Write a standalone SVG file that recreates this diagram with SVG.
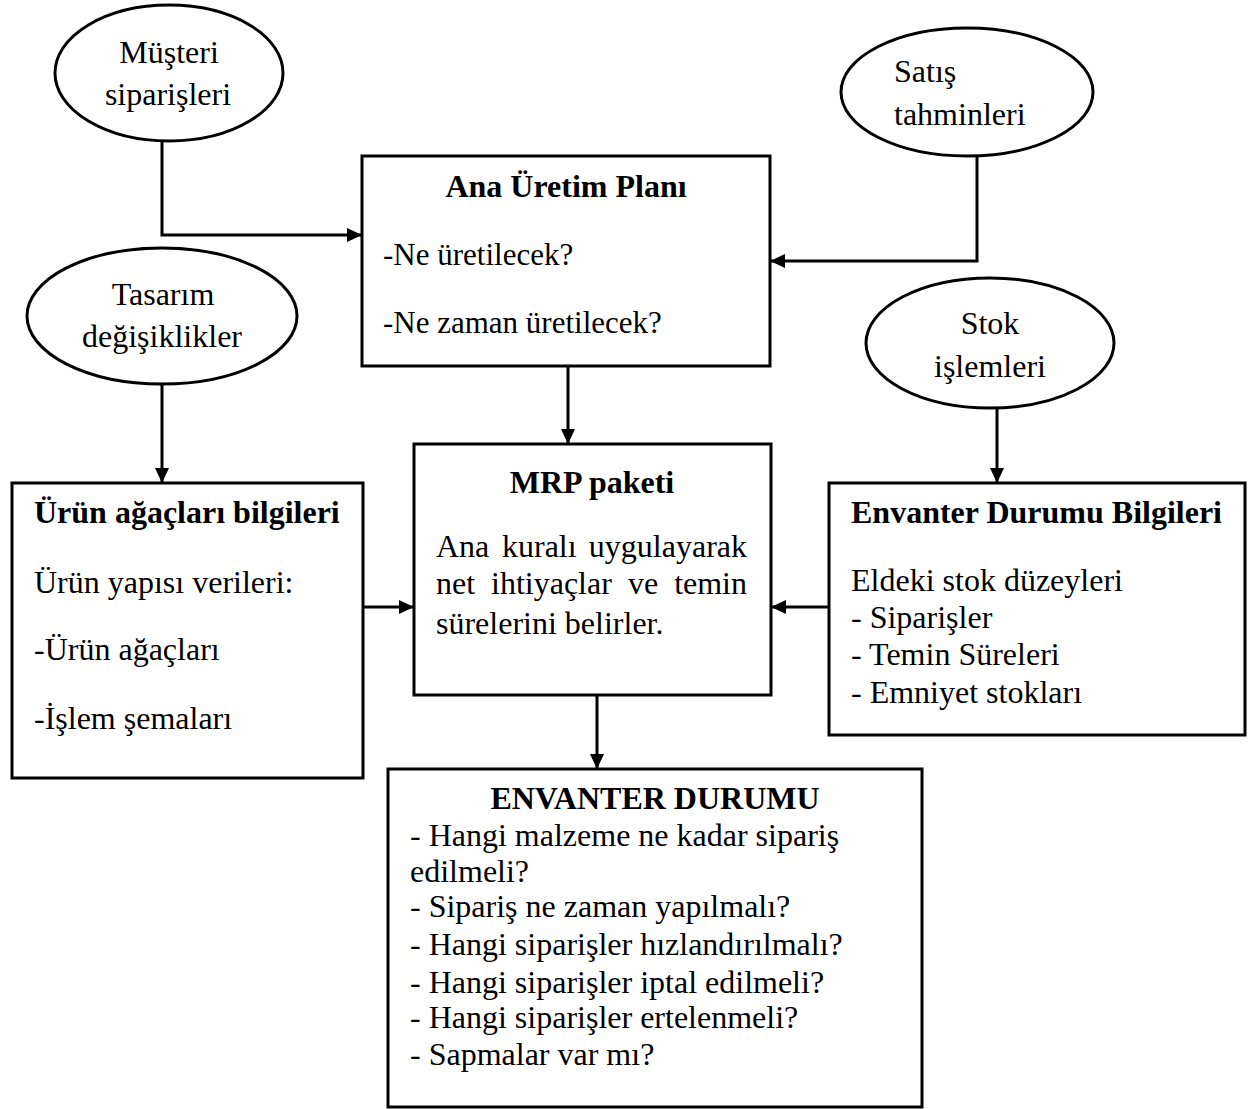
<svg xmlns="http://www.w3.org/2000/svg" width="1254" height="1109" viewBox="0 0 1254 1109">
  <style>
    .shape { fill: #ffffff; stroke: #000000; stroke-width: 3; }
    .wire { fill: none; stroke: #000000; stroke-width: 3; marker-end: url(#head); }
    text { font-family: "Liberation Serif", "Times New Roman", serif; font-size: 32px; fill: #000000; }
    .b { font-weight: bold; }
    .c { text-anchor: middle; }
    .s31 { font-size: 31px; }
  </style>
  <defs>
    <marker id="head" markerUnits="userSpaceOnUse" markerWidth="16" markerHeight="16" refX="15" refY="7" orient="auto">
      <path d="M0,0 L15,7 L0,14 Z" fill="#000000"/>
    </marker>
  </defs>

  <rect width="1254" height="1109" fill="#ffffff"/>

  <!-- connectors -->
  <g id="connectors">
    <path class="wire" d="M162,141 V235 H362"/>
    <path class="wire" d="M977,156 V261 H770"/>
    <path class="wire" d="M568,366 V444"/>
    <path class="wire" d="M162,385 V483"/>
    <path class="wire" d="M997,408 V483"/>
    <path class="wire" d="M363,607 H414"/>
    <path class="wire" d="M829,607 H771"/>
    <path class="wire" d="M597,695 V769"/>
  </g>

  <!-- input ellipses -->
  <g id="musteri-siparisleri">
    <ellipse class="shape" cx="169" cy="73" rx="114" ry="68"/>
    <text class="c" x="169" y="63">Müşteri</text>
    <text class="c" x="168" y="105">siparişleri</text>
  </g>

  <g id="tasarim-degisiklikler">
    <ellipse class="shape" cx="162" cy="316" rx="135" ry="68"/>
    <text class="c" x="163" y="305">Tasarım</text>
    <text class="c" x="162" y="347">değişiklikler</text>
  </g>

  <g id="satis-tahminleri">
    <ellipse class="shape" cx="967" cy="92" rx="126" ry="64"/>
    <text x="894" y="82">Satış</text>
    <text x="894" y="125">tahminleri</text>
  </g>

  <g id="stok-islemleri">
    <ellipse class="shape" cx="990" cy="343" rx="124" ry="65"/>
    <text class="c" x="990" y="334">Stok</text>
    <text class="c" x="990" y="377">işlemleri</text>
  </g>

  <!-- master production schedule -->
  <g id="ana-uretim-plani">
    <rect class="shape" x="362" y="156" width="408" height="210"/>
    <text class="b c" x="566" y="197">Ana Üretim Planı</text>
    <text class="s31" x="383" y="265">-Ne üretilecek?</text>
    <text class="s31" x="383" y="333">-Ne zaman üretilecek?</text>
  </g>

  <!-- bill of materials -->
  <g id="urun-agaclari-bilgileri">
    <rect class="shape" x="12" y="483" width="351" height="295"/>
    <text class="b" x="34" y="523">Ürün ağaçları bilgileri</text>
    <text x="34" y="593">Ürün yapısı verileri:</text>
    <text x="34" y="660">-Ürün ağaçları</text>
    <text x="34" y="729">-İşlem şemaları</text>
  </g>

  <!-- MRP package (justified paragraph, words placed one by one) -->
  <g id="mrp-paketi">
    <rect class="shape" x="414" y="444" width="357" height="251"/>
    <text class="b c" x="592" y="493">MRP paketi</text>
    <text y="557"><tspan x="436">Ana</tspan><tspan x="502">kuralı</tspan><tspan x="747" text-anchor="end">uygulayarak</tspan></text>
    <text y="594"><tspan x="436">net</tspan><tspan x="491">ihtiyaçlar</tspan><tspan x="628">ve</tspan><tspan x="747" text-anchor="end">temin</tspan></text>
    <text x="436" y="634">sürelerini belirler.</text>
  </g>

  <!-- inventory records -->
  <g id="envanter-durumu-bilgileri">
    <rect class="shape" x="829" y="483" width="416" height="252"/>
    <text class="b" x="851" y="523">Envanter Durumu Bilgileri</text>
    <text x="851" y="591">Eldeki stok düzeyleri</text>
    <text x="851" y="628">- Siparişler</text>
    <text x="851" y="665">- Temin Süreleri</text>
    <text x="851" y="703">- Emniyet stokları</text>
  </g>

  <!-- output -->
  <g id="envanter-durumu">
    <rect class="shape" x="388" y="769" width="534" height="338"/>
    <text class="b c" x="655" y="809">ENVANTER DURUMU</text>
    <text x="410" y="846">- Hangi malzeme ne kadar sipariş</text>
    <text x="410" y="882">edilmeli?</text>
    <text x="410" y="917">- Sipariş ne zaman yapılmalı?</text>
    <text x="410" y="955">- Hangi siparişler hızlandırılmalı?</text>
    <text x="410" y="993">- Hangi siparişler iptal edilmeli?</text>
    <text x="410" y="1028">- Hangi siparişler ertelenmeli?</text>
    <text x="410" y="1065">- Sapmalar var mı?</text>
  </g>
</svg>
